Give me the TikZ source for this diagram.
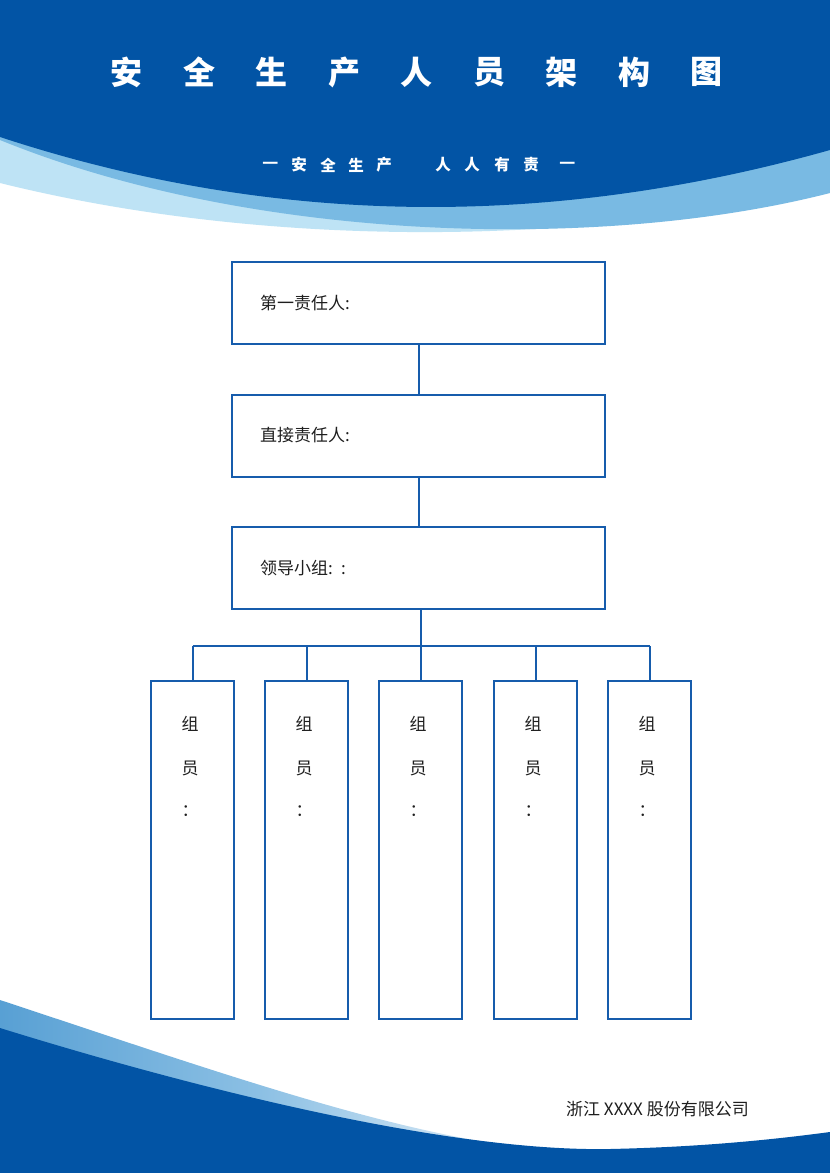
\documentclass[tikz,border=0pt]{standalone}
\usepackage{fontspec}
\newfontfamily\cjk{Noto Sans CJK SC}
\usetikzlibrary{calc}
\definecolor{deepblue}{RGB}{2,84,165}
\definecolor{midblue}{RGB}{121,186,227}
\definecolor{paleblue}{RGB}{190,227,245}
\definecolor{gradA}{RGB}{88,160,212}
\definecolor{gradB}{RGB}{140,192,228}
\definecolor{gradC}{RGB}{225,238,248}
\definecolor{linkblue}{RGB}{22,92,172}
\definecolor{txt}{RGB}{30,30,30}
\tikzset{
  bigbox/.style={draw=linkblue, line width=2pt, minimum width=373pt, minimum height=82pt,
    text width=317pt, inner xsep=28pt, align=left, text=txt,
    font=\cjk\fontsize{17}{20}\selectfont},
  membox/.style={draw=linkblue, line width=2pt, minimum width=83pt, minimum height=338pt, inner sep=0pt},
  memtext/.style={text=txt, inner sep=0pt, font=\cjk\fontsize{17}{20}\selectfont},
  conn/.style={draw=linkblue, line width=2pt},
  titlech/.style={text=white, inner sep=0pt, font=\cjk\bfseries\fontsize{32}{36}\selectfont},
  subch/.style={text=white, inner sep=0pt, font=\cjk\bfseries\fontsize{15.5}{18}\selectfont},
  foot/.style={text=txt, inner sep=0pt, anchor=west, font=\cjk\fontsize{17}{20}\selectfont}
}
\begin{document}
\begin{tikzpicture}[x=1pt,y=-1pt]
\useasboundingbox (0,0) rectangle (830,1173);
\fill[white] (0,0) rectangle (830,1173);
% header waves
\fill[paleblue] (0,0) -- (0,183) .. controls (250,245) and (560,250) .. (830,188) -- (830,0) -- cycle;
\fill[midblue] (0,0) -- (0,140) .. controls (250,242) and (600,252) .. (830,193) -- (830,0) -- cycle;
\fill[deepblue] (0,0) -- (0,137) .. controls (277,228) and (553,228) .. (830,150) -- (830,0) -- cycle;
% title
\foreach \ch/\x in {安/126.5,全/199,生/271,产/344,人/416,员/489,架/561,构/634,图/706}
  \node[titlech] (t\x) at (\x,72) {\ch};
\foreach \ch/\x in {安/299,全/328,生/356,产/384,人/443,人/472,有/502,责/531}
  \node[subch] (s\x) at (\x,165) {\ch};
\node[subch, font=\cjk\bfseries\fontsize{18}{18}\selectfont] (dashL) at (271,165) {—};
\node[subch, font=\cjk\bfseries\fontsize{18}{18}\selectfont] (dashR) at (568,165) {—};
% footer waves
\shade[left color=gradA, right color=gradC, middle color=gradB]
  (0,1000) .. controls (200,1066) and (380,1130) .. (520,1147) -- (520,1173) -- (0,1173) -- cycle;
\fill[deepblue] (0,1028) .. controls (200,1090) and (450,1152) .. (610,1149)
  .. controls (700,1147) and (770,1140) .. (830,1132) -- (830,1173) -- (0,1173) -- cycle;
\node[foot] (company) at (566,1109) {浙江 XXXX 股份有限公司};
% top boxes
\node[bigbox] (b1) at (418.5,303) {第一责任人:};
\node[bigbox] (b2) at (418.5,435.5) {直接责任人:};
\node[bigbox] (b3) at (418.5,568) {领导小组: :};
\draw[conn] (b1.south) -- (b2.north);
\draw[conn] (b2.south) -- (b3.north);
% member boxes
\foreach \i/\x in {1/192.5,2/306.5,3/420.5,4/535.5,5/649.5}{
  \node[membox] (m\i) at (\x,850) {};
  \node[memtext] (m\i a) at (\x-2.5,724) {组};
  \node[memtext] (m\i b) at (\x-2.5,768) {员};
  \node[memtext] (m\i c) at (\x-2.5,811) {：};
}
\coordinate (hub) at ($(m3.north)+(0,-34)$);
\draw[conn] (m3.north |- b3.south) -- (m3.north);
\draw[conn] (m1.north |- hub) -- (m5.north |- hub);
\foreach \i in {1,2,4,5}
  \draw[conn] (m\i.north |- hub) -- (m\i.north);
\end{tikzpicture}
\end{document}
